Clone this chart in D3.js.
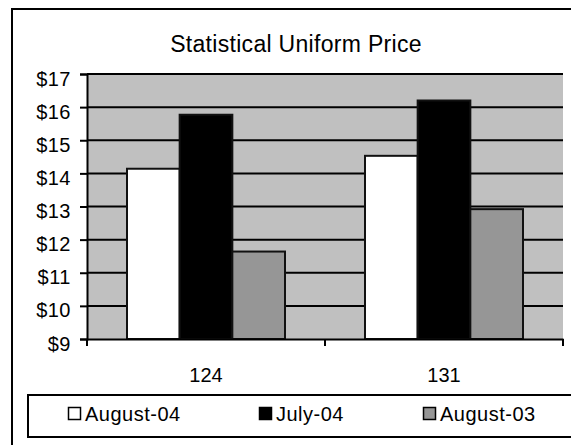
<!DOCTYPE html>
<html>
<head>
<meta charset="utf-8">
<script src="https://cdn.jsdelivr.net/npm/d3@7"></script>
<style>
  body { margin: 0; background: #fff; }
  text { font-family: 'Liberation Sans', Arial, sans-serif; fill: #000; }
</style>
</head>
<body>
<svg width="571" height="445"></svg>
<script>
var categories = ['124', '131'];
var series = ['August-04', 'July-04', 'August-03'];
var august04 = [14.14, 14.53];
var july04 = [15.77, 16.2];
var august03 = [11.64, 12.92];
var yTicks = [9, 10, 11, 12, 13, 14, 15, 16, 17];
var colors = ['#ffffff', '#000000', '#969696'];

var values = [august04, july04, august03];

var svg = d3.select('svg');

var plot = {left: 87, right: 563, top: 74, bottom: 339};

// outer chart border (runs off the right and bottom of the picture)
svg.append('rect')
    .attr('x', 12).attr('y', 9)
    .attr('width', 600).attr('height', 480)
    .attr('fill', '#fff')
    .attr('stroke', '#000')
    .attr('stroke-width', 2);

svg.append('text')
    .attr('x', 296).attr('y', 52)
    .attr('text-anchor', 'middle')
    .style('font-size', '23px')
    .style('letter-spacing', '0.3px')
    .text('Statistical Uniform Price');

var y = d3.scaleLinear().domain([9, 17]).range([plot.bottom, plot.top]);
var x0 = d3.scaleBand().domain(categories).range([plot.left, plot.right]);
var x1 = d3.scaleBand().domain(series).range([40, x0.bandwidth() - 40]);

svg.append('rect')
    .attr('x', plot.left).attr('y', plot.top)
    .attr('width', plot.right - plot.left)
    .attr('height', plot.bottom - plot.top)
    .attr('fill', '#c0c0c0');

// grid lines
svg.append('g')
    .selectAll('line')
    .data(yTicks.slice(1))
    .join('line')
    .attr('x1', plot.left).attr('x2', plot.right)
    .attr('y1', function(d) { return y(d); })
    .attr('y2', function(d) { return y(d); })
    .attr('stroke', '#000')
    .attr('stroke-width', 2);

var groups = svg.append('g')
    .selectAll('g')
    .data(categories)
    .join('g')
    .attr('transform', function(d) { return 'translate(' + x0(d) + ',0)'; });

groups.selectAll('rect')
    .data(function(d, i) {
        return series.map(function(s, j) { return {s: s, v: values[j][i], c: colors[j]}; });
    })
    .join('rect')
    .attr('x', function(d) { return x1(d.s); })
    .attr('y', function(d) { return y(d.v); })
    .attr('width', x1.bandwidth())
    .attr('height', function(d) { return y(9) - y(d.v); })
    .attr('fill', function(d) { return d.c; })
    .attr('stroke', '#111')
    .attr('stroke-width', 2);

// y axis
var yAxis = svg.append('g')
    .attr('transform', 'translate(' + plot.left + ',0)')
    .call(d3.axisLeft(y).tickValues(yTicks).tickSize(7).tickPadding(9)
        .tickFormat(function(d) { return '$' + d; }));
yAxis.select('.domain').attr('stroke', '#000').attr('stroke-width', 2);
yAxis.selectAll('.tick line').attr('stroke', '#000').attr('stroke-width', 2);
yAxis.selectAll('.tick text')
    .attr('dy', '0.55em')
    .style('font-size', '20px')
    .style('letter-spacing', '0.5px')
    .style('font-family', "'Liberation Sans', Arial, sans-serif");

// x axis
var xAxis = svg.append('g')
    .attr('transform', 'translate(0,' + plot.bottom + ')')
    .call(d3.axisBottom(x0).tickSize(0).tickPadding(29));
xAxis.select('.domain').attr('stroke', '#000').attr('stroke-width', 2);
xAxis.selectAll('.tick text')
    .style('font-size', '20px')
    .style('font-family', "'Liberation Sans', Arial, sans-serif");

xAxis.selectAll('line.sep')
    .data([plot.left, plot.left + x0.step(), plot.right])
    .join('line')
    .attr('class', 'sep')
    .attr('x1', function(d) { return d; }).attr('x2', function(d) { return d; })
    .attr('y1', 0).attr('y2', 7)
    .attr('stroke', '#000')
    .attr('stroke-width', 2);

// legend
svg.append('rect')
    .attr('x', 28).attr('y', 395)
    .attr('width', 600).attr('height', 42)
    .attr('fill', '#fff')
    .attr('stroke', '#000')
    .attr('stroke-width', 2);

var legendX = [68, 259, 423];
var items = svg.append('g')
    .selectAll('g')
    .data(series)
    .join('g')
    .attr('transform', function(d, i) { return 'translate(' + legendX[i] + ',407)'; });

items.append('rect')
    .attr('x', 0.5).attr('y', 0.5)
    .attr('width', 12).attr('height', 12)
    .attr('fill', function(d, i) { return colors[i]; })
    .attr('stroke', '#000')
    .attr('stroke-width', 1.5);

items.append('text')
    .attr('x', 17).attr('y', 13.5)
    .style('font-size', '20px')
    .style('letter-spacing', '0.5px')
    .text(function(d) { return d; });
</script>
</body>
</html>
